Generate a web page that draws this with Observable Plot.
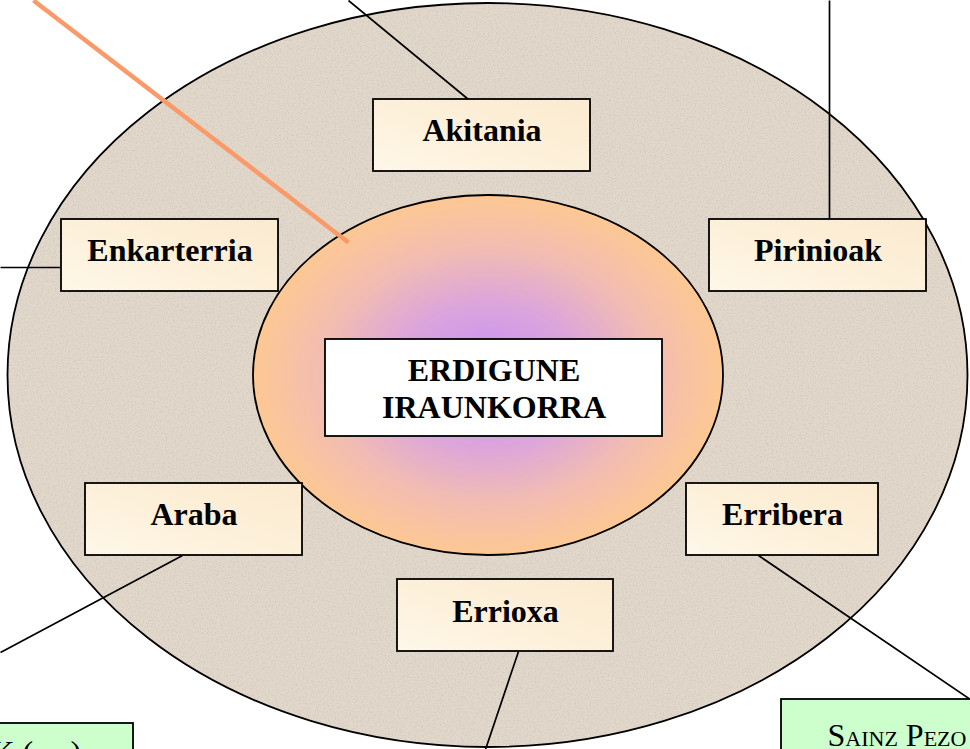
<!DOCTYPE html>
<html><head><meta charset="utf-8">
<script src="https://cdn.jsdelivr.net/npm/d3@7"></script>
<script src="https://cdn.jsdelivr.net/npm/@observablehq/plot@0.6"></script>
<style>html,body{margin:0;padding:0;background:#fff;overflow:hidden}svg{display:block}</style>
</head><body><div id="chart"></div>
<script>
// ---- data (diagram coordinates, page pixels) ----
const ellipseNames = ["outer", "inner"];
const ellipseCx = [487.5, 488];
const ellipseCy = [375, 375];
const ellipseRx = [480, 235];
const ellipseRy = [372, 180];

const regionLabels = ["Akitania", "Pirinioak", "Enkarterria", "Araba", "Erribera", "Errioxa"];
const regionX1 = [373, 709, 61, 85, 686, 397];
const regionX2 = [590, 926, 278, 302, 878, 613];
const regionY1 = [99, 219, 219, 483, 483, 579];
const regionY2 = [171, 291, 291, 555, 555, 651];
const regionBaseline = [140, 260, 260, 524, 524, 621];

const linkFromX = [468, 829, 61, 182, 758, 518];
const linkFromY = [99, 219, 267, 555, 555, 651];
const linkToX = [348, 829, 0, 0, 970, 485];
const linkToY = [0, 0, 267, 652, 699, 749];

const arrowFrom = [33, 0];
const arrowTo = [348, 242];

const centreBox = [325, 339, 662, 436];
const centreLines = ["ERDIGUNE", "IRAUNKORRA"];
const centreBaselines = [380, 417];

const noteLabels = ["K (ed.)", "Sainz Pezo"];
const noteX1 = [-2, 781];
const noteX2 = [133, 976];
const noteY1 = [723, 699];
const noteY2 = [770, 770];
const noteTextX = [-9, 827];
const noteBaseline = [762, 745];

// ---- tables built from the arrays ----
const ellipses = ellipseNames.map((n, i) => ({n, cx: ellipseCx[i], cy: ellipseCy[i], rx: ellipseRx[i], ry: ellipseRy[i]}));
const regions = regionLabels.map((label, i) => ({label, x1: regionX1[i], x2: regionX2[i], y1: regionY1[i], y2: regionY2[i], by: regionBaseline[i]}));
const links = linkFromX.map((x, i) => ({x1: x, y1: linkFromY[i], x2: linkToX[i], y2: linkToY[i]}));
const notes = noteLabels.map((label, i) => ({label, x1: noteX1[i], x2: noteX2[i], y1: noteY1[i], y2: noteY2[i], tx: noteTextX[i], by: noteBaseline[i]}));
const centre = centreLines.map((t, i) => ({t, x: (centreBox[0] + centreBox[2]) / 2, y: centreBaselines[i]}));

const W = 970, H = 749;
const fx = d3.scaleLinear([0, W], [0, W]);
const fy = d3.scaleLinear([0, H], [0, H]);
const serif = "'Liberation Serif', 'Times New Roman', 'DejaVu Serif', serif";

function ellipseMark(name, fill, stroke, extra) {
  return (index, scales) => {
    const sx = (scales && scales.x) || fx;
    const sy = (scales && scales.y) || fy;
    const e = ellipses.find(d => d.n === name);
    const g = d3.create("svg:g");
    if (name === "outer") {
      const defs = g.append("defs");
      const f = defs.append("filter").attr("id", "speckle").attr("x", 0).attr("y", 0).attr("width", "100%").attr("height", "100%");
      f.append("feTurbulence").attr("type", "fractalNoise").attr("baseFrequency", 0.6).attr("numOctaves", 3).attr("seed", 7).attr("result", "n");
      f.append("feColorMatrix").attr("in", "n").attr("type", "matrix")
        .attr("values", "0 0 0 0 0.68  0 0 0 0 0.61  0 0 0 0 0.53  0 0 0 4.5 -2.2").attr("result", "spots");
      f.append("feComposite").attr("in", "spots").attr("in2", "SourceGraphic").attr("operator", "in").attr("result", "s2");
      const m = f.append("feMerge");
      m.append("feMergeNode").attr("in", "SourceGraphic");
      m.append("feMergeNode").attr("in", "s2");
      const rg = defs.append("radialGradient").attr("id", "core").attr("cx", "0.5").attr("cy", "0.5").attr("r", "0.5");
      [[0, "#c68ef8"], [0.4, "#dba5dc"], [0.7, "#f2bcb3"], [1, "#fdc893"]].forEach(([o, c]) =>
        rg.append("stop").attr("offset", o).attr("stop-color", c));
      const lg = defs.append("linearGradient").attr("id", "cream").attr("x1", 0).attr("y1", 1).attr("x2", 1).attr("y2", 0);
      [[0, "#fef7e8"], [0.5, "#fdf0d9"], [1, "#fbead0"]].forEach(([o, c]) =>
        lg.append("stop").attr("offset", o).attr("stop-color", c));
    }
    const cx = sx(e.cx), cy = sy(e.cy);
    const rx = Math.abs(sx(e.cx + e.rx) - cx), ry = Math.abs(sy(e.cy + e.ry) - cy);
    g.append("ellipse").attr("cx", cx).attr("cy", cy).attr("rx", rx).attr("ry", ry)
      .attr("fill", fill).attr("filter", extra || null);
    g.append("ellipse").attr("cx", cx).attr("cy", cy).attr("rx", rx).attr("ry", ry)
      .attr("fill", "none").attr("stroke", stroke).attr("stroke-width", 1.8);
    return g.node();
  };
}

const plot = Plot.plot({
  width: W, height: H,
  margin: 0,
  x: {domain: [0, W], range: [0, W], axis: null},
  y: {domain: [0, H], range: [0, H], axis: null},
  style: {background: "#fff", overflow: "hidden"},
  marks: [
    ellipseMark("outer", "#e1d8cb", "#000", "url(#speckle)"),
    Plot.link(links, {x1: "x1", y1: "y1", x2: "x2", y2: "y2", stroke: "#000", strokeWidth: 1.7}),
    ellipseMark("inner", "url(#core)", "#000"),
    Plot.link([{x1: arrowFrom[0], y1: arrowFrom[1], x2: arrowTo[0], y2: arrowTo[1]}],
      {x1: "x1", y1: "y1", x2: "x2", y2: "y2", stroke: "#fa9a68", strokeWidth: 4.5}),
    Plot.rect(regions, {x1: "x1", x2: "x2", y1: "y1", y2: "y2", fill: "url(#cream)", stroke: "#000", strokeWidth: 1.8}),
    Plot.text(regions, {x: d => (d.x1 + d.x2) / 2, y: "by", text: "label", lineAnchor: "bottom",
      fontFamily: serif, fontWeight: "bold", fontSize: 32, fill: "#000"}),
    Plot.rect([{x1: centreBox[0], y1: centreBox[1], x2: centreBox[2], y2: centreBox[3]}],
      {x1: "x1", x2: "x2", y1: "y1", y2: "y2", fill: "#fff", stroke: "#000", strokeWidth: 1.8}),
    Plot.text(centre, {x: "x", y: "y", text: "t", lineAnchor: "bottom",
      fontFamily: serif, fontWeight: "bold", fontSize: 32, fill: "#000"}),
    Plot.rect(notes, {x1: "x1", x2: "x2", y1: "y1", y2: "y2", fill: "#ccffcc", stroke: "#000", strokeWidth: 1.8}),
    Plot.text(notes, {x: "tx", y: "by", text: "label", lineAnchor: "bottom", textAnchor: "start",
      fontFamily: serif, fontSize: 32, fill: "#000", fontVariant: "small-caps"})
  ]
});
document.getElementById("chart").appendChild(plot);
</script>
</body></html>
